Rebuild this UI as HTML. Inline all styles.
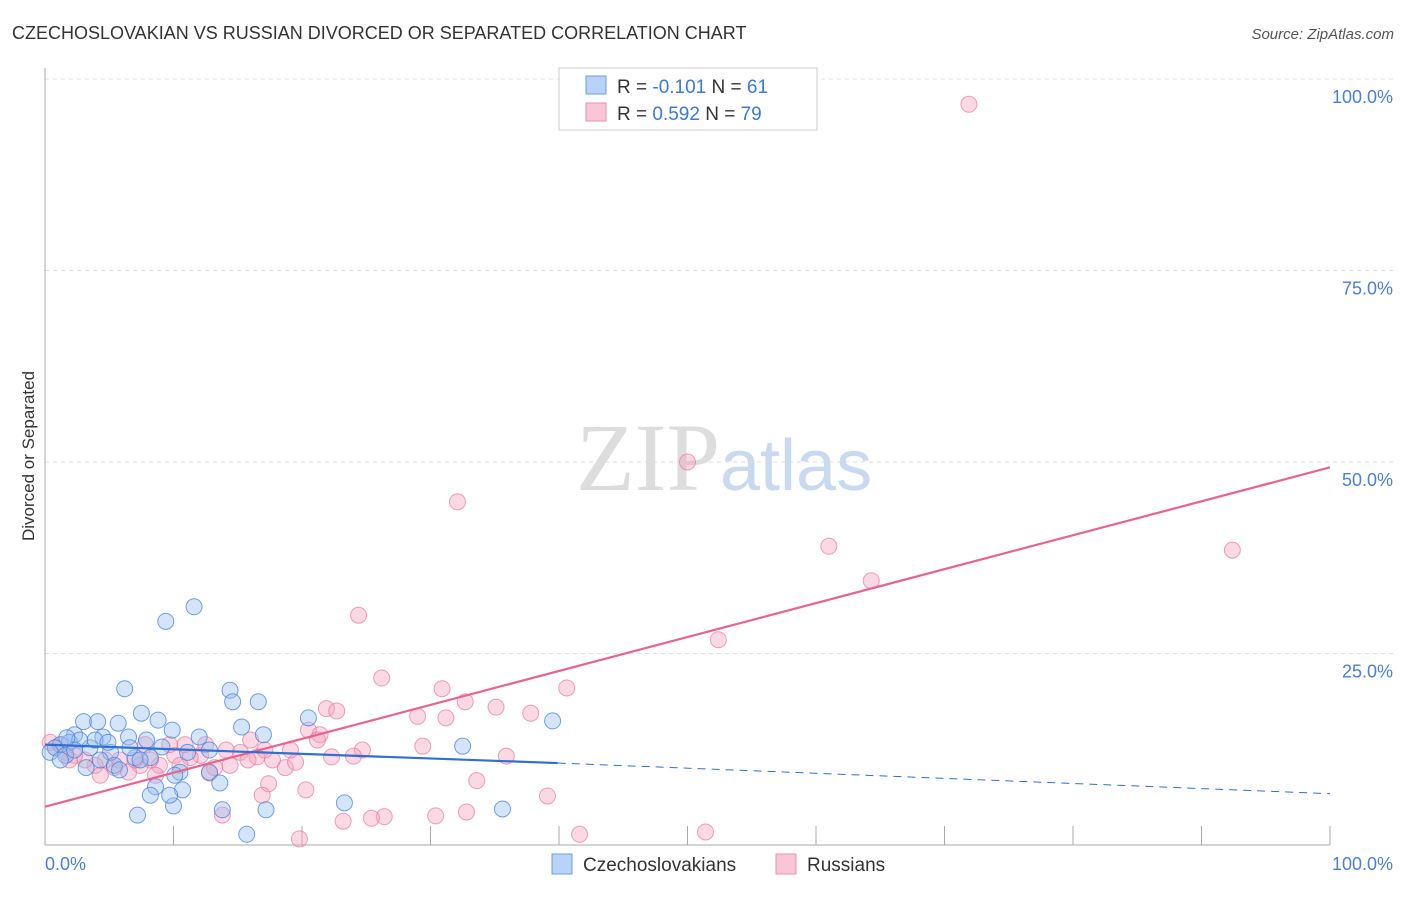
<!DOCTYPE html>
<html><head><meta charset="utf-8"><style>
body{margin:0;background:#fff;font-family:"Liberation Sans",sans-serif}
</style></head><body>
<svg width="1406" height="892" xmlns="http://www.w3.org/2000/svg">
<text x="12" y="39" font-size="18" fill="#333">CZECHOSLOVAKIAN VS RUSSIAN DIVORCED OR SEPARATED CORRELATION CHART</text>
<text x="1394" y="39" font-size="15" fill="#555" font-style="italic" text-anchor="end">Source: ZipAtlas.com</text>
<text x="720" y="490" font-size="96" fill="#ddd" text-anchor="end" font-family="Liberation Serif,serif">ZIP</text>
<text x="720" y="490" font-size="72" fill="#c9daf0">atlas</text>
<g id="grid"></g>
<line x1="45" y1="68" x2="45" y2="845" stroke="#aaa"/>
<line x1="45" y1="845" x2="1330" y2="845" stroke="#aaa"/>
<text transform="translate(34,456) rotate(-90)" font-size="17" fill="#333" text-anchor="middle">Divorced or Separated</text>
<text x="45" y="870" font-size="18" fill="#4a7fd4">0.0%</text>
<text x="1393" y="870" font-size="18" fill="#4a7fd4" text-anchor="end">100.0%</text>
<g id="points"></g>
<g id="lines"></g>
<rect x="559" y="68" width="258" height="62" fill="#fff" stroke="#ccc"/>
<rect x="586" y="76" width="20" height="18" fill="#b8d3f5" stroke="#6d9de0"/>
<rect x="586" y="103" width="20" height="18" fill="#f9c6d6" stroke="#ea90ad"/>
<text x="617" y="93" font-size="19" fill="#333">R = <tspan fill="#3b78d8">-0.101</tspan>   N = <tspan fill="#3b78d8">61</tspan></text>
<text x="617" y="120" font-size="19" fill="#333">R =  <tspan fill="#3b78d8">0.592</tspan>   N = <tspan fill="#3b78d8">79</tspan></text>
<rect x="552" y="854" width="20" height="20" fill="#b8d3f5" stroke="#6d9de0"/>
<text x="583" y="871" font-size="19" fill="#333">Czechoslovakians</text>
<rect x="776" y="854" width="20" height="20" fill="#f9c6d6" stroke="#ea90ad"/>
<text x="807" y="871" font-size="19" fill="#333">Russians</text>
</svg>
<script>
const yTicks=[25,50,75,100];
const yTickLabels=["25.0%","50.0%","75.0%","100.0%"];
const xTicks=[10,20,30,40,50,60,70,80,90,100];
const blueX=[9.4,11.6,6.2,14.4,14.6,16.6,7.5,8.8,9.9,3.0,4.1,5.7,15.3,17.0,12.0,20.5,2.3,4.5,6.5,7.9,9.1,11.1,1.2,1.9,3.5,5.1,7.0,10.5,12.8,8.6,10.7,10.0,13.6,13.8,7.2,15.7,17.2,23.3,35.6,32.5,39.5,0.8,0.4,1.6,3.2,4.3,5.4,8.2,5.8,3.9,2.7,6.6,1.2,2.3,12.8,10.1,9.7,8.2,4.9,7.4,1.7];
const blueY=[29.2,31.1,20.4,20.2,18.7,18.7,17.2,16.3,15.0,16.1,16.1,15.9,15.4,14.4,14.1,16.6,14.4,14.1,14.1,13.7,12.8,12.1,13.1,13.4,12.7,12.1,11.4,9.5,9.5,7.6,7.2,5.1,8.1,4.6,3.9,1.4,4.6,5.5,4.7,12.9,16.2,12.7,12.1,11.7,10.1,11.1,10.4,11.4,9.8,13.7,13.7,12.7,11.1,12.4,12.4,9.1,6.5,6.5,13.4,11.1,14.0];
const pinkX=[71.9,50.0,32.1,61.0,64.3,92.4,52.4,24.4,26.2,40.6,30.9,32.7,29.0,35.1,37.8,21.9,22.7,31.2,20.5,21.4,29.4,24.7,22.3,24.0,35.9,33.6,39.1,30.4,32.8,26.4,25.4,23.2,19.8,41.6,51.4,20.3,17.4,16.9,13.8,12.8,16.5,15.2,15.8,18.7,17.7,14.1,12.1,12.5,11.3,10.1,9.7,8.9,8.2,7.4,6.5,5.4,4.7,3.9,3.1,2.3,1.6,0.8,0.4,1.2,16.0,17.1,14.4,8.6,4.3,5.8,7.0,10.5,19.5,7.8,10.9,19.1,13.2,21.2,1.9];
const pinkY=[96.7,50.0,44.8,39.0,34.5,38.5,26.8,30.0,21.8,20.5,20.4,18.7,16.8,18.0,17.2,17.8,17.5,16.6,15.0,14.4,12.9,12.4,11.5,11.6,11.6,8.4,6.4,3.8,4.3,3.7,3.5,3.1,0.8,1.4,1.7,7.2,8.0,6.5,3.9,9.4,11.5,12.1,11.1,10.1,11.1,12.4,11.7,13.1,11.4,11.7,13.1,10.4,11.1,10.4,9.5,10.1,11.1,10.4,11.1,11.7,12.1,12.7,13.4,13.1,13.7,12.4,10.4,9.1,9.1,11.1,11.1,10.4,10.8,13.1,13.1,12.4,10.1,13.7,11.1];
const blueTrend=[13.1,10.7,6.7]; // at x=0, 39.9, 100
const blueTrendX=[0,39.9,100];
const pinkTrend=[5.0,49.3];
const NS="http://www.w3.org/2000/svg";
const sx=v=>45+v*12.85, sy=v=>845-v*7.66;
function mk(t,a,p){const e=document.createElementNS(NS,t);for(const k in a)e.setAttribute(k,a[k]);document.getElementById(p).appendChild(e);return e;}
yTicks.forEach((t,i)=>{
 const l=mk('line',{x1:45,x2:1395,y1:sy(t),y2:sy(t),stroke:'#ddd','stroke-dasharray':'4,4'},'grid');
 
 
 const tx=mk('text',{x:1393,y:sy(t)+24,'font-size':18,fill:'#4a7fd4','text-anchor':'end'},'grid');tx.textContent=yTickLabels[i];
 
 
});
xTicks.forEach(t=>{
 const l=mk('line',{x1:sx(t),x2:sx(t),y1:826,y2:845,stroke:'#aaa'},'grid');
 
 
});
pinkX.forEach((x,i)=>{
 const c=mk('circle',{cx:sx(x),cy:sy(pinkY[i]),r:8,fill:'rgba(244,160,188,0.4)',stroke:'rgba(232,120,156,0.7)','stroke-width':1},'points');
 
 
});
blueX.forEach((x,i)=>{
 const c=mk('circle',{cx:sx(x),cy:sy(blueY[i]),r:8,fill:'rgba(150,190,240,0.4)',stroke:'rgba(70,130,220,0.75)','stroke-width':1},'points');
 
 
});
let l=mk('line',{x1:sx(0),y1:sy(pinkTrend[0]),x2:sx(100),y2:sy(pinkTrend[1]),stroke:'#e8638f','stroke-width':2.2},'lines');


l=mk('line',{x1:sx(blueTrendX[0]),y1:sy(blueTrend[0]),x2:sx(blueTrendX[1]),y2:sy(blueTrend[1]),stroke:'#2f6fd6','stroke-width':2.2},'lines');


l=mk('line',{x1:sx(blueTrendX[1]),y1:sy(blueTrend[1]),x2:sx(blueTrendX[2]),y2:sy(blueTrend[2]),stroke:'#2f6fd6','stroke-width':1,'stroke-dasharray':'8,6'},'lines');


</script>
</body></html>
